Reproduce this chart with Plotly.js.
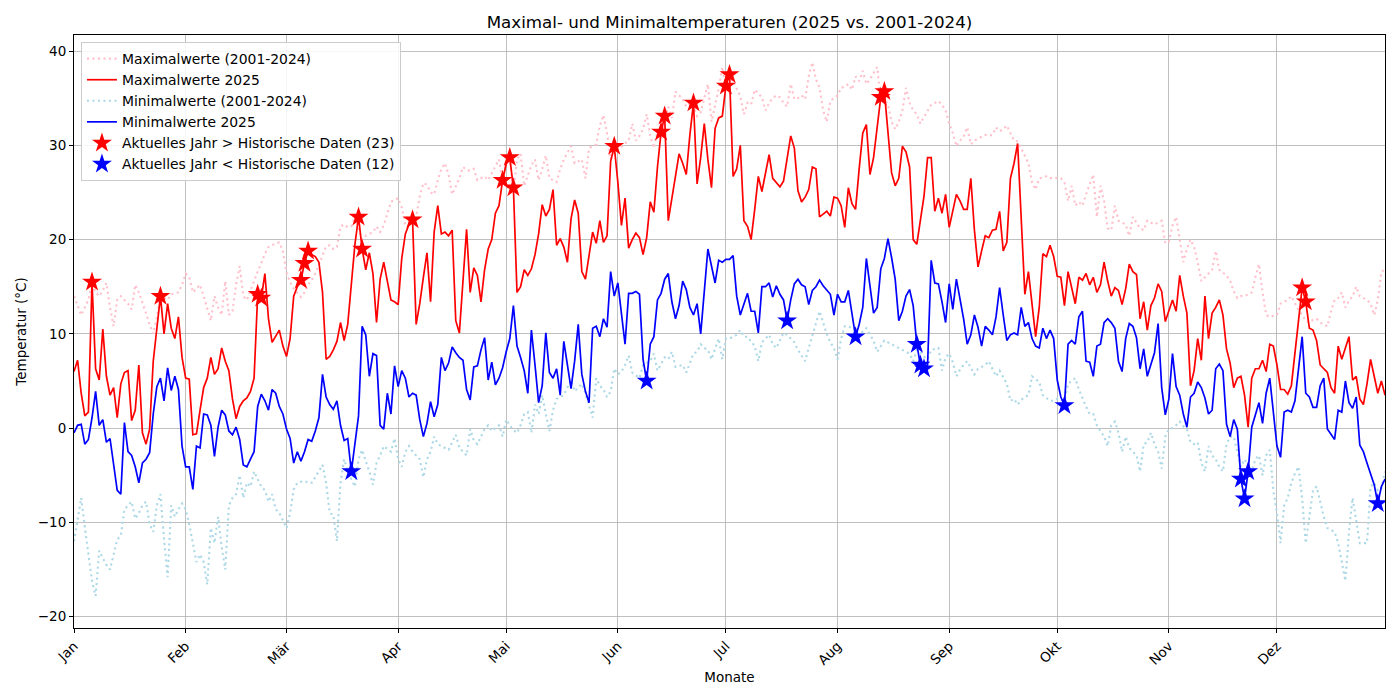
<!DOCTYPE html>
<html>
<head>
<meta charset="utf-8">
<script src="https://cdn.plot.ly/plotly-3.0.1.min.js"></script>
<style>html,body{margin:0;padding:0;background:#fff;}#chart{width:1400px;height:700px;}</style>
</head>
<body>
<div id="chart"></div>
<script>
// Daily values, 2025-01-01 .. 2025-12-31 (one line per month)
const maxHist = [
14,13,12,12.8,13.6,15.4,14.4,14,14.6,15.4,12.8,10.8,13.6,14,13.6,13.2,12.6,15.2,14.4,13.4,12.2,11,10,11.8,14,13.8,13.6,14.2,14.3,14.4,15.2,
16.4,16,14.4,14.8,15.2,14,12.8,11.4,14,12.8,12,15.6,12,12.4,15.2,17.2,14,13.6,14.6,15.7,16.6,17.5,18.5,19.2,19.4,19.6,19.7,18.8,
16.5,15.5,14.8,14.4,13.9,14.4,15.2,15.7,16.4,17.3,18.3,19.3,19.4,19,19.2,21.4,21.6,21.3,21.4,22.4,21.2,20,20.4,20.6,20.8,21.4,20.8,21.5,22.8,24,24.2,
24.4,23.4,21.6,21.8,21.6,22.4,24.6,26,25.8,25,24.8,26.3,27.5,28.1,26.9,24.8,25.6,26.5,27.7,27.4,27.3,27.5,26.3,26.5,26.7,26.3,27,27.7,28.5,26.0,
28.5,28.5,25.2,28.5,29.1,25.7,26.9,27.9,28.5,26.3,27.5,28.9,26.5,26.3,26.1,27.5,28.5,29.2,29.9,28.1,28.3,28.5,26.5,29.7,29.9,30.1,32.1,33.2,31.3,28.5,29.2,
29.7,29.9,30.2,30.5,32.3,30.5,31,31.7,33.3,31,29.7,31.5,30.8,32.6,34.1,32.9,35.7,35.3,34.9,34.1,34.5,34.2,33.1,33.5,35,36.5,32.5,34.1,36,38.3,
35.8,36.9,36.9,36,35.2,33.3,34.5,34.3,35.9,35.5,35.1,33.7,34.5,35,35.3,35.1,34.5,34.1,36.5,34.9,35,35.3,34.9,37.3,38.8,37,36.1,33.7,32.5,34.7,35,
35.3,36.1,36.2,36.5,35.9,37.3,36.8,37.9,36.5,37,37.7,38.3,34.7,35,34.3,32.5,31.7,32.5,33.7,36.1,34.5,33.7,33.3,32.3,33,33.7,34.3,34.5,34.7,34.3,33.7,
32.3,31.3,29.9,30.5,30.9,31.9,30.1,30.5,30.7,30.9,31.1,31,31.1,31.9,31.5,31.7,32.1,31.3,30.5,30.4,29.7,28.9,28.1,26.1,25.3,26.5,26.6,26.7,26.5,26.6,
26.5,26.5,26.1,24.1,25.7,23.6,24,23.6,24.8,25.8,26.9,22.4,25.7,24.1,21.2,21,23.6,22,21.8,21.6,20.4,22.4,21.8,21.2,21,22,21.8,21.6,21.8,22,19.6,
19.8,21.5,22.4,20,17.6,19,20,19.2,17.6,15.6,16,16.4,16.8,18.8,16.8,16.5,16.2,15.6,14.5,13.8,14,14,14.2,14.4,16,17.4,14.4,12,11.8,11.9,
12,13.2,13.4,13.6,14,13.2,12.5,12,11.4,11.2,11.5,11.6,11.2,11,10.8,12.4,13.6,13.8,14.4,12.8,13.5,14,15,14,13.8,13.6,13.2,12,13.6,16.6,16.8
];
const max2025 = [
6.0,7.2,3.7,1.3,1.7,15.5,6.3,5.1,10.5,5.5,3.5,4.3,1.1,4.7,5.9,6.1,0.8,1.9,6.7,-0.5,-1.7,-0.1,7.1,10.3,14.0,10.0,13.2,10.6,9.5,11.8,7.5,
5.3,5.2,-0.7,-0.6,1.9,4.3,5.3,7.5,5.7,6.3,8.5,7.1,6.1,3.1,1.0,2.3,2.9,3.2,3.9,5.3,14.2,13.8,16.4,11.6,9.1,9.7,10.4,8.7,
7.6,9.5,14.0,15.0,15.7,17.5,18.8,18.4,18.2,17.6,14.4,7.3,7.6,8.3,9.2,11.2,9.3,11.0,15.6,19.5,22.4,19.0,16.8,18.6,16.4,11.2,15.8,17.6,15.6,13.6,13.4,
13.1,18.0,20.6,21.6,22.1,11.0,13.2,16.0,18.6,13.4,20.8,23.6,20.6,20.8,20.4,21.0,11.4,10.1,16.0,21.1,14.4,17.0,16.2,13.4,16.8,19.0,20.0,22.8,23.6,26.3,
28.0,28.7,25.5,14.4,15.0,16.8,16.2,16.9,18.4,20.6,23.7,22.5,23.2,25.3,19.4,20.1,19.2,17.6,22.2,24.2,22.8,16.6,15.8,18.4,20.8,19.6,22.0,19.7,20.4,28.3,29.9,
26.1,21.5,24.4,19.1,20.0,20.7,20.2,18.4,20.2,24.0,22.9,27.7,31.4,33.1,22.0,24.4,26.5,29.1,28.1,26.9,31.1,34.5,25.9,28.7,32.3,28.5,25.5,31.8,32.9,33.1,
36.3,37.5,26.7,27.5,30.0,22.0,21.4,20.0,23.2,26.7,25.1,27.1,29.0,26.5,26.1,25.6,26.2,28.7,31.0,29.7,25.2,24.0,24.5,25.3,27.7,27.5,22.4,22.7,23.0,22.5,24.5,
24.4,23.6,21.3,25.5,23.8,23.2,27.5,31.3,32.2,26.9,28.7,32.1,35.1,35.7,31.7,27.1,25.7,26.5,29.9,29.3,27.7,20.0,19.5,22.0,24.6,28.7,28.7,23.0,24.4,22.8,24.8,
21.3,23.0,24.8,24.1,23.2,23.2,26.5,21.0,17.1,18.8,20.4,20.2,21.0,21.1,23.0,18.8,19.7,26.5,28.1,30.2,22.4,14.2,16.6,13.2,9.7,12.8,18.5,18.2,19.4,18.2,
16.1,16.0,13.0,16.6,14.9,13.2,16.0,15.7,16.4,15.2,16.0,14.4,15.2,17.6,15.6,14.0,14.9,14.6,13.1,14.8,17.4,16.6,16.3,11.6,13.4,10.4,13.0,13.8,15.3,14.5,11.3,
12.4,13.6,12.4,16.2,14.0,12.2,4.5,6.1,9.5,7.2,14.0,9.5,12.2,12.8,13.6,12.0,8.4,6.9,4.3,5.3,5.5,3.5,0.1,5.3,6.3,6.3,7.2,6.0,8.9,8.7,
6.7,4.1,4.1,3.6,4.5,7.9,10.8,14.9,13.4,10.6,10.4,9.3,6.7,6.3,5.9,4.3,3.7,8.7,7.3,8.5,9.7,5.1,5.5,3.1,2.5,4.7,7.3,5.5,3.7,5.0,3.5
];
const minHist = [
-12,-9.8,-7.4,-10.5,-13.5,-16.2,-17.8,-13,-13.8,-14.5,-15,-13.5,-11.8,-11.4,-8.6,-8.2,-7.8,-9.6,-9,-8.2,-7.8,-10.2,-11,-8.2,-7,-11.8,-15.8,-8.2,-9.4,-8.6,-8,
-8.6,-10.2,-12.2,-14.2,-13.4,-14.2,-16.6,-10.6,-12.2,-9.4,-12.6,-15,-8.2,-7.4,-7,-5,-7.4,-5.8,-6.2,-4.6,-5.4,-6.2,-6.6,-7.8,-7,-8.6,-9,-9.8,
-10.6,-9,-6.5,-5.8,-5.7,-5.6,-5.8,-5.8,-5.2,-4.5,-3.9,-5.8,-9,-9.2,-12,-5.8,-3.3,-4.6,-5.4,-6.2,-3.3,-2.3,-3.5,-4.6,-6,-3.7,-2.9,-1.9,-2.2,-2.5,-1.1,
-3.3,-4.1,-2.5,-1.9,-2.5,-2.9,-3.3,-5.2,-3.3,-2.5,-0.9,-1.7,-1.9,-2.1,-2.3,-1.5,-0.7,-2.1,-2.5,-2.9,-0.1,-1.3,-1.7,-0.8,-0.1,0.3,-0.3,0,0.3,-0.9,
0.9,0.3,-0.2,-0.5,0.3,1.5,1.7,-0.5,2.5,1.5,3.5,1.5,-0.3,1.9,3.1,3.3,3.5,4.3,5.1,3.9,4.3,4.7,3.7,2.3,1.1,5.3,4.5,4.1,3.3,3.9,6.3,
5.7,6,6.7,7.7,5.9,5.6,5.3,6.7,6.9,7.1,7.9,6.1,6.8,7.5,7.3,8.1,6.5,6.6,6.7,5.9,6.9,7.9,8.1,8.9,8.5,8.3,7.3,8.4,9.5,7.3,
9.5,9.5,9.7,9.9,10.4,9.7,9.7,9.2,8.7,7.1,9.1,9.5,9.9,8.9,8.5,9.3,10.1,9.9,9.5,9.1,8.3,7.7,7.1,8.5,9.9,11,12.4,11.2,10,9.1,8.5,
7.3,9.5,10.8,10.8,10.6,10.4,9.9,10.2,10.6,9.9,9.3,8.1,8.7,9.3,9.1,8.9,8.7,8.5,8.3,8.1,7.9,7.1,8.3,8.1,7.6,7.3,8.3,8.4,8.5,6.1,7.5,
7.9,7,5.5,6.2,6.7,7.1,6.4,5.7,6.3,6.5,6.7,7.1,6.3,5.5,6.1,5.4,4.7,2.9,3.1,2.5,3,3.3,3.5,5.5,5.2,4.9,3.5,3.2,2.9,2.9,
3.1,3,2.9,4.7,5,5.3,4.1,3.1,2.3,1.5,1.5,0.3,-0.3,-0.9,-1.9,0.3,0.7,-0.5,-2.5,-0.9,-2.1,-2.5,-2.9,-4.6,-1.7,-1.5,-0.5,-1.7,-2.5,-4.3,-0.9,
-0.1,0,0.3,0.7,0.2,-0.1,-1.5,-1.7,-1.5,-3.7,-4.6,-1.9,-2.9,-3.3,-4.1,-4.6,-1.7,-0.9,-0.9,-2.5,-4.1,-3.3,-4,-4.6,-3.3,-2.9,-5,-2.9,-2.3,-6.6,
-9,-12.2,-8.2,-7.4,-5.8,-4.8,-4.1,-7.5,-12.2,-9.4,-6.6,-6.2,-7.8,-9.4,-10.6,-10.8,-11,-12.2,-14.2,-16.2,-11,-7.4,-9.8,-12.2,-12.2,-12.2,-6.2,-5.8,-6.6,-6.4,-4.6
];
const min2025 = [
-0.5,0.3,0.4,-1.7,-1.2,1.1,3.9,0.3,0.9,-1.5,-1.1,-3.7,-6.6,-7.0,0.6,-2.5,-2.9,-4.1,-5.8,-3.7,-3.3,-2.6,1.5,4.4,5.3,2.9,6.4,4.0,5.5,4.1,-1.9,
-4.1,-4.1,-6.5,-1.9,-2.1,1.5,1.4,0.3,-3.0,0.1,1.9,1.4,-0.3,-0.7,0.1,-1.2,-3.9,-4.1,-3.3,-2.5,2.3,3.6,2.9,1.9,4.1,3.7,2.3,1.5,
-0.1,-1.1,-3.7,-2.5,-3.5,-2.5,-1.2,-1.4,-0.3,1.1,5.7,3.3,2.5,2.0,2.9,0.3,-1.3,-1.1,-4.6,-1.9,1.3,10.8,9.9,5.5,7.9,7.7,0.3,-0.1,3.7,1.5,6.6,
4.4,6.1,5.3,3.3,3.7,3.5,0.9,-0.9,0.5,2.8,1.2,2.5,7.5,6.1,6.9,8.6,8.0,7.5,7.2,4.1,3.0,6.5,6.6,8.3,9.6,5.1,7.0,4.6,5.3,6.4,
8.1,9.5,13.0,8.7,7.5,6.1,3.7,10.4,6.7,2.7,4.5,10.1,5.9,5.3,6.3,3.5,9.2,6.7,4.2,7.1,11.0,5.7,3.9,2.7,10.6,10.8,9.7,11.6,10.7,16.6,14.0,
15.4,12.0,8.9,14.3,14.3,14.5,14.2,7.3,5.0,8.9,9.7,13.6,14.3,15.8,16.4,13.4,11.6,13.0,15.6,14.7,12.8,12.0,13.2,10.0,14.4,19.0,17.2,15.4,17.8,17.6,
17.9,17.9,18.3,14.0,12.0,13.2,14.3,12.4,12.4,10.1,15.0,15.0,15.4,13.9,15.1,14.2,13.6,11.4,13.6,15.3,15.8,15.2,15.0,13.1,14.6,15.0,15.7,15.1,14.7,14.2,12.0,
14.2,13.4,13.4,14.6,12.0,9.7,11.0,12.8,18.0,15.2,12.2,12.8,16.9,18.0,20.1,18.1,15.8,11.4,12.4,14.0,14.7,13.0,8.9,6.7,6.3,6.7,17.8,15.4,15.3,13.4,11.2,
15.3,12.6,15.8,13.6,11.6,8.9,9.9,12.0,10.7,8.7,10.8,10.4,9.9,11.8,14.9,12.0,9.3,9.9,10.1,9.9,12.8,10.8,11.2,9.5,8.7,8.5,10.6,9.5,10.4,9.5,
5.1,3.3,2.4,8.9,9.3,8.9,11.8,12.4,7.1,7.0,5.5,8.7,8.9,11.2,11.6,11.2,10.6,7.1,6.0,9.5,11.1,10.8,9.6,6.3,8.4,5.5,6.7,8.0,11.1,4.3,1.4,
3.1,7.9,4.4,3.5,1.5,0.1,3.3,3.7,4.9,4.3,3.2,1.5,1.9,6.3,6.8,6.1,0.4,-0.9,0.9,-0.1,-5.4,-7.5,-4.6,0.1,1.5,2.7,0.5,3.7,5.3,1.7,
-1.9,-3.1,1.7,1.9,1.7,2.9,6.3,9.7,3.7,3.3,2.2,2.2,4.5,5.3,-0.1,-0.6,-1.2,1.9,1.7,5.0,2.7,2.1,3.3,-1.8,-2.5,-3.7,-4.8,-6.0,-8.0,-6.2,-5.4
];
// Day-of-year indices (0 = 1 Jan) where the current year beats the record
const aboveDays = [5,24,51,52,63,64,65,79,80,94,119,121,122,150,163,164,172,181,182,224,225,341,342];
const belowDays = [77,159,198,217,234,235,236,275,324,325,326,362];
// Month ticks
const monthTicks = ['2025-01-01','2025-02-01','2025-03-01','2025-04-01','2025-05-01','2025-06-01','2025-07-01','2025-08-01','2025-09-01','2025-10-01','2025-11-01','2025-12-01'];
const monthLabels = ['Jan','Feb','Mär','Apr','Mai','Jun','Jul','Aug','Sep','Okt','Nov','Dez'];
const yTicks = [-20,-10,0,10,20,30,40];

const dates = max2025.map((_, i) => new Date(Date.UTC(2025, 0, 1 + i)).toISOString().slice(0, 10));

const traces = [
  {x: dates, y: maxHist, mode: 'lines', name: 'Maximalwerte (2001-2024)',
   line: {color: 'pink', width: 2.1, dash: '2.1px,3.4px'}},
  {x: dates, y: max2025, mode: 'lines', name: 'Maximalwerte 2025',
   line: {color: 'red', width: 1.7}},
  {x: dates, y: minHist, mode: 'lines', name: 'Minimalwerte (2001-2024)',
   line: {color: 'lightblue', width: 2.1, dash: '2.1px,3.4px'}},
  {x: dates, y: min2025, mode: 'lines', name: 'Minimalwerte 2025',
   line: {color: 'blue', width: 1.7}},
  {x: aboveDays.map(d => dates[d]), y: aboveDays.map(d => max2025[d]), mode: 'markers',
   name: 'Aktuelles Jahr > Historische Daten (23)',
   marker: {symbol: 'star', size: 15, color: 'red', line: {width: 0}}},
  {x: belowDays.map(d => dates[d]), y: belowDays.map(d => min2025[d]), mode: 'markers',
   name: 'Aktuelles Jahr < Historische Daten (12)',
   marker: {symbol: 'star', size: 15, color: 'blue', line: {width: 0}}}
];

const layout = {
  width: 1400, height: 700,
  margin: {l: 74, r: 15, t: 35, b: 72, pad: 0},
  paper_bgcolor: 'white', plot_bgcolor: 'white',
  font: {family: 'DejaVu Sans, sans-serif', size: 13.5, color: 'black'},
  title: {text: 'Maximal- und Minimaltemperaturen (2025 vs. 2001-2024)',
          font: {size: 16.7, color: 'black'}, x: 0.5, xref: 'paper', xanchor: 'center',
          y: 1 - 22/700, yref: 'container', yanchor: 'middle'},
  showlegend: true,
  legend: {x: 0.0053, y: 0.988, xanchor: 'left', yanchor: 'top',
           bgcolor: 'rgba(255,255,255,0.85)', bordercolor: '#cccccc', borderwidth: 1,
           font: {size: 13.9}, itemwidth: 30, tracegroupgap: 0},
  xaxis: {type: 'date', range: ['2025-01-01', '2025-12-31'],
          tickmode: 'array', tickvals: monthTicks, ticktext: monthLabels, tickangle: -45,
          ticks: 'outside', ticklen: 4, tickcolor: 'black', tickfont: {size: 13.5},
          showgrid: true, gridcolor: '#b0b0b0', gridwidth: 0.8,
          showline: true, linecolor: 'black', linewidth: 1, mirror: true, zeroline: false,
          automargin: false,
          title: {text: 'Monate', font: {size: 13.5}, standoff: 5}},
  yaxis: {range: [-21.2, 41.7], tickmode: 'array', tickvals: yTicks,
          ticks: 'outside', ticklen: 4, tickcolor: 'black', tickfont: {size: 13.5},
          showgrid: true, gridcolor: '#b0b0b0', gridwidth: 0.8,
          showline: true, linecolor: 'black', linewidth: 1, mirror: true, zeroline: false,
          automargin: false,
          title: {text: 'Temperatur (°C)', font: {size: 13.5}, standoff: 8}},
  hovermode: false
};

Plotly.newPlot('chart', traces, layout, {staticPlot: true, displayModeBar: false});
</script>
</body>
</html>
